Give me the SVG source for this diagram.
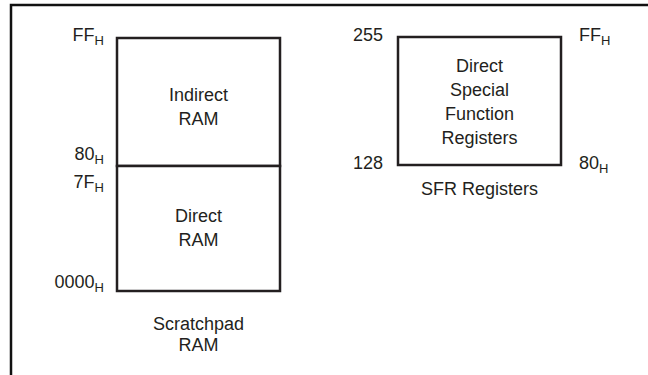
<svg xmlns="http://www.w3.org/2000/svg" width="648" height="375" viewBox="0 0 648 375">
<style>
.box{fill:#fff;stroke:#231f20;stroke-width:2.5}
.frame{fill:none;stroke:#111;stroke-width:2.5}
.t{font-family:"Liberation Sans",Arial,sans-serif;font-size:18px;fill:#231f20}
.c{text-anchor:middle}
.e{text-anchor:end}
.s{font-size:13px}
</style>
<rect width="648" height="375" fill="#fff"/>
<path class="frame" d="M11,375 V5 H648"/>
<g id="connectors"></g>
<g id="indirect-ram">
<rect class="box" x="117" y="38" width="163" height="128"/>
<text class="t c" x="198.5" y="101">Indirect</text>
<text class="t c" x="198.5" y="125">RAM</text>
</g>
<g id="direct-ram">
<rect class="box" x="117" y="166" width="163" height="125"/>
<text class="t c" x="198.5" y="222">Direct</text>
<text class="t c" x="198.5" y="246">RAM</text>
</g>
<g id="scratchpad-labels">
<text class="t e" x="104" y="41">FF<tspan class="s" dy="4">H</tspan></text>
<text class="t e" x="104" y="160">80<tspan class="s" dy="4">H</tspan></text>
<text class="t e" x="104" y="188">7F<tspan class="s" dy="4">H</tspan></text>
<text class="t e" x="104" y="288">0000<tspan class="s" dy="4">H</tspan></text>
<text class="t c" x="198.5" y="330">Scratchpad</text>
<text class="t c" x="198.5" y="351">RAM</text>
</g>
<g id="sfr">
<rect class="box" x="398" y="37" width="163" height="128"/>
<text class="t c" x="479.5" y="72">Direct</text>
<text class="t c" x="479.5" y="96">Special</text>
<text class="t c" x="479.5" y="120">Function</text>
<text class="t c" x="479.5" y="144">Registers</text>
<text class="t c" x="479.5" y="195">SFR Registers</text>
<text class="t e" x="383" y="41">255</text>
<text class="t e" x="383" y="169">128</text>
<text class="t" x="579" y="41">FF<tspan class="s" dy="4">H</tspan></text>
<text class="t" x="579" y="169">80<tspan class="s" dy="4">H</tspan></text>
</g>
</svg>
